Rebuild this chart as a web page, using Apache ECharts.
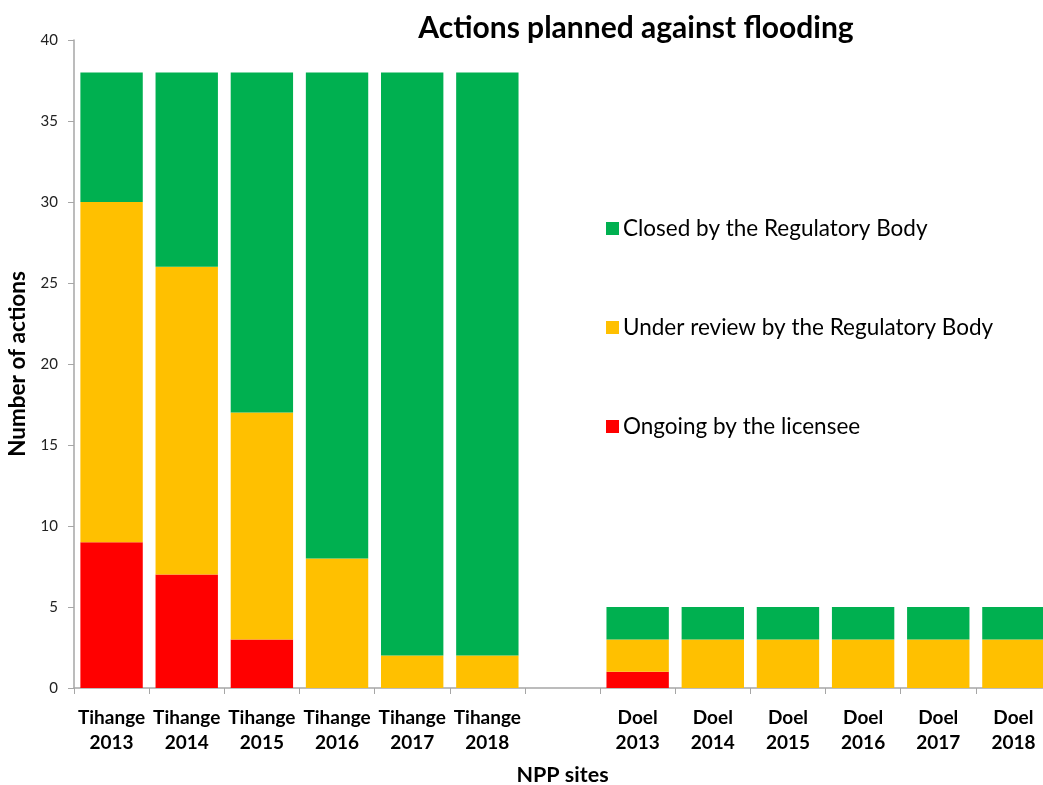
<!DOCTYPE html>
<html>
<head>
<meta charset="utf-8">
<script src="https://cdn.jsdelivr.net/npm/echarts@6/dist/echarts.min.js"></script>
<style>html,body{margin:0;padding:0;background:#fff}#c{width:1043px;height:785px}</style>
</head>
<body>
<div id="c"></div>
<script>
const categories = ['Tihange\n2013','Tihange\n2014','Tihange\n2015','Tihange\n2016','Tihange\n2017','Tihange\n2018','',
  'Doel\n2013','Doel\n2014','Doel\n2015','Doel\n2016','Doel\n2017','Doel\n2018'];
const ongoing   = [9, 7, 3, 0, 0, 0, null, 1, 0, 0, 0, 0, 0];
const review    = [21, 19, 14, 8, 2, 2, null, 2, 3, 3, 3, 3, 3];
const closed    = [8, 12, 21, 30, 36, 36, null, 2, 2, 2, 2, 2, 2];
const yTicks = [0, 5, 10, 15, 20, 25, 30, 35, 40];

const font = 'Lato, "Open Sans", sans-serif';
const chart = echarts.init(document.getElementById('c'));
chart.setOption({
  animation: false,
  textStyle: { fontFamily: font },
  title: {
    text: 'Actions planned against flooding',
    left: 631, top: 8, textAlign: 'center',
    textStyle: { fontSize: 30, fontWeight: 'bold', color: '#000', fontFamily: font }
  },
  legend: {
    orient: 'vertical', left: 601, top: 212, itemGap: 76,
    itemWidth: 13, itemHeight: 13, icon: 'rect',
    data: ['Closed by the Regulatory Body', 'Under review by the Regulatory Body', 'Ongoing by the licensee'],
    textStyle: { fontSize: 22.5, color: '#000', fontFamily: font, padding: [0, 0, 0, -1] }
  },
  grid: { left: 74, right: -8, top: 40, bottom: 97, containLabel: false, outerBoundsMode: 'none' },
  xAxis: {
    type: 'category', data: categories,
    name: 'NPP sites', nameLocation: 'middle', nameGap: 76,
    nameTextStyle: { fontSize: 21.5, fontWeight: 'bold', color: '#000' },
    axisLine: { lineStyle: { color: '#A6A6A6', width: 1.5 } },
    axisTick: { show: true, length: 6, lineStyle: { color: '#A6A6A6' } },
    axisLabel: { interval: 0, fontSize: 19, fontWeight: 'bold', color: '#000', lineHeight: 25, margin: 17 }
  },
  yAxis: {
    type: 'value', min: 0, max: 40, interval: 5,
    name: 'Number of actions', nameLocation: 'middle', nameGap: 44,
    nameTextStyle: { fontSize: 22.5, fontWeight: 'bold', color: '#000' },
    splitLine: { show: false },
    axisLine: { show: true, lineStyle: { color: '#A6A6A6', width: 1.5 } },
    axisTick: { show: true, length: 6, lineStyle: { color: '#A6A6A6' } },
    axisLabel: { fontSize: 15, color: '#222', margin: 16,
      formatter: v => yTicks.includes(v) ? String(v) : '' }
  },
  series: [
    { name: 'Ongoing by the licensee', type: 'bar', stack: 's', data: ongoing,
      itemStyle: { color: '#FF0000' }, barCategoryGap: '17%' },
    { name: 'Under review by the Regulatory Body', type: 'bar', stack: 's', data: review,
      itemStyle: { color: '#FFC000' } },
    { name: 'Closed by the Regulatory Body', type: 'bar', stack: 's', data: closed,
      itemStyle: { color: '#00B050' } }
  ]
});
</script>
</body>
</html>
